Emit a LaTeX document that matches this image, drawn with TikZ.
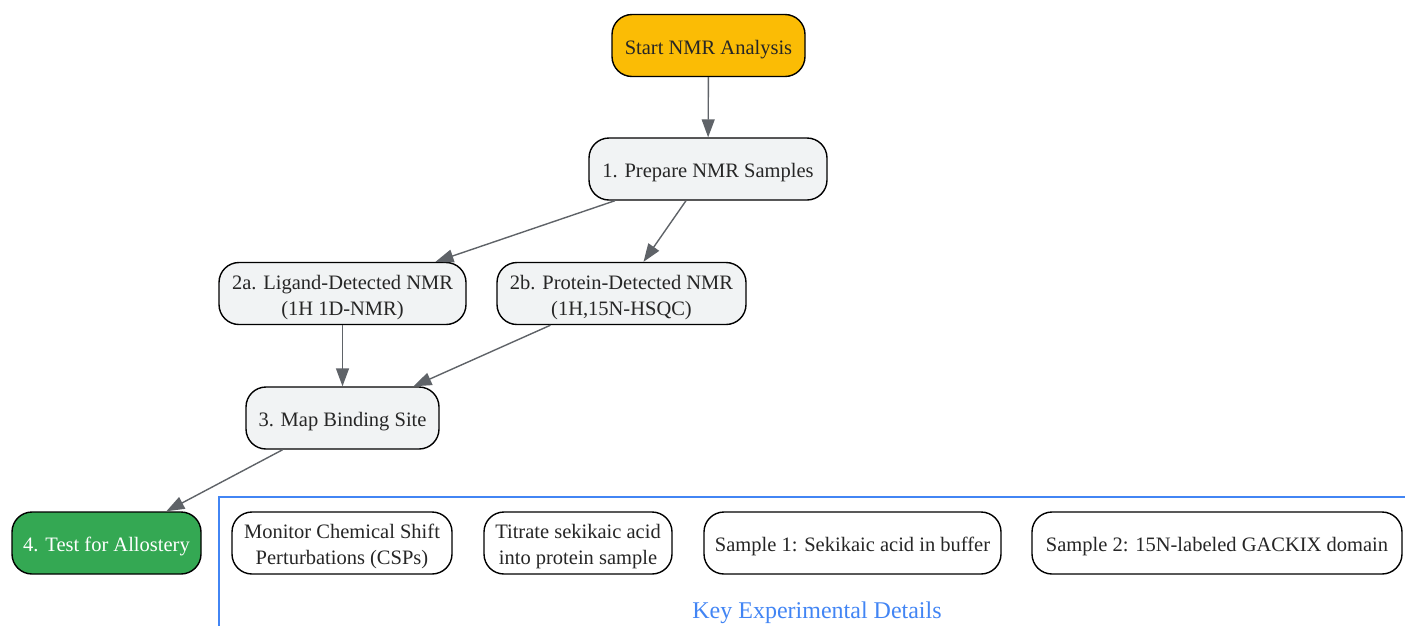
\documentclass[tikz,border=0pt]{standalone}
\usepackage{fontspec}
\setmainfont{Liberation Serif}
\usetikzlibrary{arrows.meta}
\definecolor{startc}{HTML}{FBBC05}
\definecolor{greenc}{HTML}{34A853}
\definecolor{grayfill}{HTML}{F1F3F4}
\definecolor{edgec}{HTML}{5F6368}
\definecolor{bluec}{HTML}{4285F4}
\definecolor{txt}{HTML}{262626}
\newcommand\lowtext[1]{\raisebox{-3.3pt}[\height][\depth]{\begin{tabular}{@{}c@{}}#1\end{tabular}}}
\tikzset{
  x=1pt, y=-1pt,
  box/.style={draw=black, line width=1.4pt, rounded corners=20pt, inner sep=0pt,
    minimum height=62pt, text=txt,
    font=\fontsize{20.5}{26}\selectfont},
  stepbox/.style={box, fill=grayfill},
  detail/.style={box, fill=white},
  conn/.style={draw=edgec, line width=1.4pt, -{Triangle[length=18pt, width=13pt]}},
}
\begin{document}
\begin{tikzpicture}
\useasboundingbox (0,0) rectangle (1405,625);
% cluster
\draw[bluec, line width=1.4pt] (219,630) -- (219,497) -- (1410,497);
\node[text=bluec, font=\fontsize{24}{28}\selectfont] (klabel) at (817,611) {\raisebox{-2pt}[\height][\depth]{Key Experimental Details}};

\node[box, fill=startc, minimum width=193pt] (s) at (708.5,45.5) {\lowtext{Start NMR Analysis}};
\node[stepbox, minimum width=238pt] (p1) at (708,169) {\lowtext{1. Prepare NMR Samples}};
\node[stepbox, minimum width=247pt] (a2) at (342.5,293.5) {\lowtext{2a. Ligand-Detected NMR\\(1H 1D-NMR)}};
\node[stepbox, minimum width=249pt] (b2) at (621.5,293.5) {\lowtext{2b. Protein-Detected NMR\\(1H,15N-HSQC)}};
\node[stepbox, minimum width=193pt] (m3) at (342.5,418) {\lowtext{3. Map Binding Site}};
\node[box, fill=greenc, text=white, minimum width=189pt] (t4) at (106.5,543) {\lowtext{4. Test for Allostery}};

\node[detail, minimum width=220pt] (d1) at (342,543) {\lowtext{Monitor Chemical Shift\\Perturbations (CSPs)}};
\node[detail, minimum width=188pt] (d2) at (578,543) {\lowtext{Titrate sekikaic acid\\into protein sample}};
\node[detail, minimum width=297pt] (d3) at (852.5,543) {\lowtext{Sample 1: Sekikaic acid in buffer}};
\node[detail, minimum width=370pt] (d4) at (1217,543) {\lowtext{Sample 2: 15N-labeled GACKIX domain}};

\draw[conn] (s) -- (p1);
\draw[conn] (p1) -- (a2);
\draw[conn] (p1) -- (b2);
\draw[conn] (a2) -- (m3);
\draw[conn] (b2) -- (m3);
\draw[conn] (m3) -- (t4);
\end{tikzpicture}
\end{document}
